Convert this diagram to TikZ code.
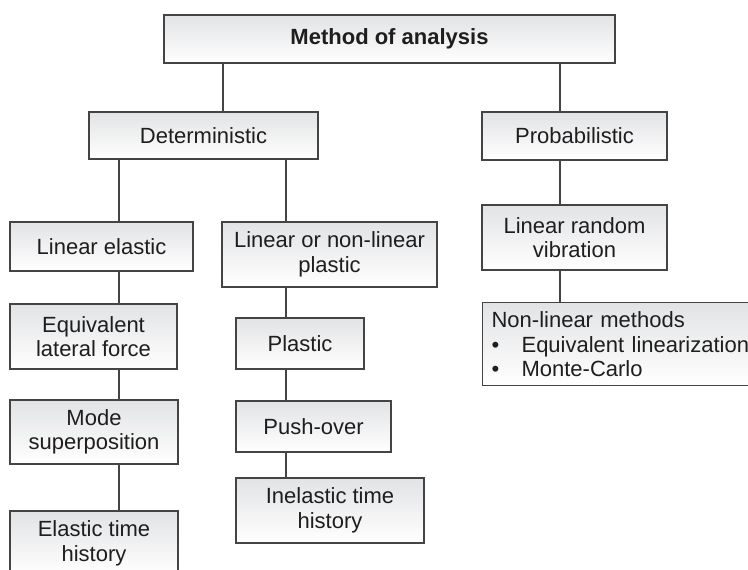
\documentclass[tikz,border=0pt]{standalone}
\usepackage{fontspec}
\setmainfont{Liberation Sans}
\definecolor{linegray}{HTML}{444444}
\definecolor{topgray}{HTML}{E2E3E5}
\definecolor{txt}{HTML}{1E1E1E}
\begin{document}
\begin{tikzpicture}[x=1pt,y=-1pt,
  box/.style={draw=linegray, line width=1.2pt, top color=topgray, bottom color=white,
    text=txt, align=center, inner sep=0pt,
    font=\fontsize{22}{24.5}\selectfont},
  conn/.style={draw=linegray, line width=1.2pt}]
\useasboundingbox (0,0) rectangle (748,570);
\clip (0,0) rectangle (748,570);
% level 0
\node[box, minimum width=451pt, minimum height=48pt, font=\fontsize{22}{24.5}\selectfont\bfseries] (top) at (389.5,39) {Method of analysis};
% level 1
\node[box, minimum width=229pt, minimum height=47pt] (det) at (203.5,135.5) {Deterministic};
\node[box, minimum width=185pt, minimum height=48pt] (prob) at (574.5,136) {Probabilistic};
% deterministic branches
\node[box, minimum width=183pt, minimum height=49pt] (linel) at (101.5,246.5) {Linear elastic};
\node[box, minimum width=215pt, minimum height=65pt] (lnlp) at (329.5,254.5) {Linear or non-linear\\plastic};
\node[box, minimum width=167pt, minimum height=65pt] (equiv) at (93.5,336.5) {Equivalent\\lateral force};
\node[box, minimum width=168pt, minimum height=64pt] (mode) at (94,432) {Mode\\superposition};
\node[box, minimum width=168pt, minimum height=65pt] (elth) at (94,543.5) {Elastic time\\history};
\node[box, minimum width=128pt, minimum height=51pt] (plastic) at (300,343.5) {Plastic};
\node[box, minimum width=155pt, minimum height=51pt] (push) at (313.5,426.5) {Push-over};
\node[box, minimum width=188pt, minimum height=65pt] (inel) at (330,510.5) {Inelastic time\\history};
% probabilistic branch
\node[box, minimum width=185pt, minimum height=65pt] (lrv) at (574.5,237.5) {Linear random\\vibration};
\node[box, anchor=north west, align=left, text width=300pt, inner xsep=9pt, inner ysep=9pt] (nlm) at (482,302)
  {Non-linear methods\\\makebox[30pt][l]{\textbullet}Equivalent linearization\\\makebox[30pt][l]{\textbullet}Monte-Carlo};
% connectors
\draw[conn] (top.south -| 223,0) -- (det.north -| 223,0);
\draw[conn] (top.south -| 560,0) -- (prob.north -| 560,0);
\draw[conn] (det.south -| 119,0) -- (linel.north -| 119,0);
\draw[conn] (det.south -| 286,0) -- (lnlp.north -| 286,0);
\draw[conn] (prob.south -| 560,0) -- (lrv.north -| 560,0);
\draw[conn] (lrv.south -| 560,0) -- (nlm.north -| 560,0);
\draw[conn] (linel.south -| 119,0) -- (equiv.north -| 119,0);
\draw[conn] (equiv.south -| 119,0) -- (mode.north -| 119,0);
\draw[conn] (mode.south -| 119,0) -- (elth.north -| 119,0);
\draw[conn] (lnlp.south -| 286,0) -- (plastic.north -| 286,0);
\draw[conn] (plastic.south -| 286,0) -- (push.north -| 286,0);
\draw[conn] (push.south -| 286,0) -- (inel.north -| 286,0);
\end{tikzpicture}
\end{document}
